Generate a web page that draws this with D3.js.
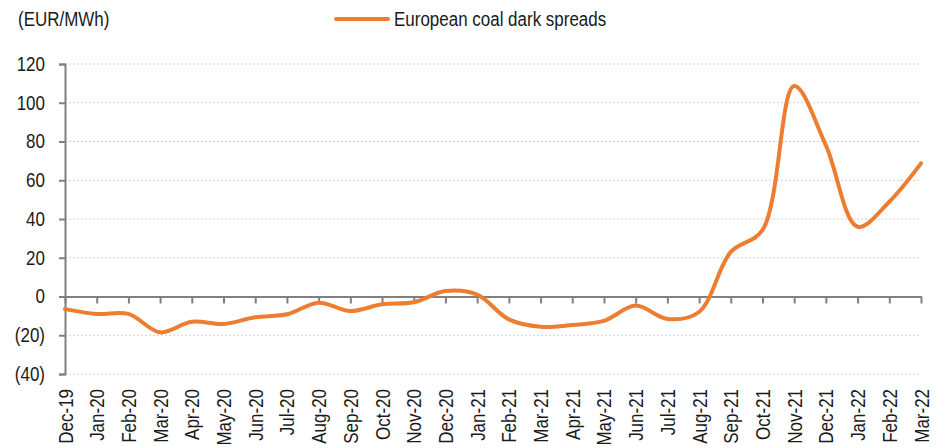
<!DOCTYPE html>
<html>
<head>
<meta charset="utf-8">
<script src="https://cdn.jsdelivr.net/npm/d3@7"></script>
<style>
  html, body { margin: 0; padding: 0; background: #fff; }
  svg { display: block; }
  text { font-family: "Liberation Sans", Arial, sans-serif; fill: #1a1a1a; }
</style>
</head>
<body>
<svg id="chart" width="946" height="448"></svg>
<script>
// Monthly categories along the x axis
const months = ["Dec-19","Jan-20","Feb-20","Mar-20","Apr-20","May-20","Jun-20","Jul-20","Aug-20","Sep-20","Oct-20","Nov-20","Dec-20",
                "Jan-21","Feb-21","Mar-21","Apr-21","May-21","Jun-21","Jul-21","Aug-21","Sep-21","Oct-21","Nov-21","Dec-21",
                "Jan-22","Feb-22","Mar-22"];
// European coal dark spreads, EUR/MWh
const spreads = [-6.5, -9, -9, -18.5, -13, -14.2, -10.7, -9.2, -3.2, -7.5, -4, -3, 2.8,
                 1, -11.8, -15.6, -14.7, -12.6, -4.7, -11.6, -8, 23, 34.3, 108.6, 78,
                 36, 48.9, 68.7];
const yTicks = [-40, -20, 0, 20, 40, 60, 80, 100, 120];
const seriesName = "European coal dark spreads";
const unitLabel = "(EUR/MWh)";

const svg = d3.select("#chart");
const plot = { left: 65, right: 921, top: 64, bottom: 374 };

const x = d3.scalePoint().domain(months).range([plot.left, plot.right]);
const y = d3.scaleLinear().domain([-40, 120]).range([plot.bottom, plot.top]);

const fontSize = 19.5;
const narrowFactor = 0.87;

// Condense text horizontally to a narrow face
function narrow(sel) {
  sel.each(function () {
    const w = this.getComputedTextLength();
    d3.select(this).attr("textLength", w * narrowFactor).attr("lengthAdjust", "spacingAndGlyphs");
  });
}

// Dotted horizontal gridlines
svg.append("g")
  .selectAll("line")
  .data(yTicks.filter(d => d !== 0))
  .join("line")
  .attr("x1", plot.left).attr("x2", plot.right)
  .attr("y1", d => y(d)).attr("y2", d => y(d))
  .attr("stroke", "#d0d0d0")
  .attr("stroke-width", 1)
  .attr("stroke-dasharray", "2,2");

// Left value axis
const yAxis = svg.append("g")
  .attr("transform", `translate(${plot.left},0)`)
  .call(d3.axisLeft(y).tickValues(yTicks).tickSize(6).tickPadding(14)
    .tickFormat(d => d < 0 ? `(${Math.abs(d)})` : d));
yAxis.select(".domain").attr("stroke", "#808080").attr("stroke-width", 2);
yAxis.selectAll(".tick line").attr("stroke", "#808080").attr("stroke-width", 2);
yAxis.selectAll("text").attr("font-size", fontSize).attr("font-family", null).attr("fill", "#1a1a1a").call(narrow);

// Category axis sitting on the zero line, labels at the bottom
const xAxis = svg.append("g")
  .attr("transform", `translate(0,${y(0)})`)
  .call(d3.axisBottom(x).tickSize(7).tickSizeOuter(0).tickFormat(""));
xAxis.select(".domain").attr("stroke", "#808080").attr("stroke-width", 2);
xAxis.selectAll(".tick line").attr("stroke", "#808080").attr("stroke-width", 2);

svg.append("g")
  .selectAll("text")
  .data(months)
  .join("text")
  .attr("transform", d => `translate(${x(d) + 7.5},${plot.bottom + 15}) rotate(-90)`)
  .attr("text-anchor", "end")
  .attr("font-size", fontSize)
  .text(d => d)
  .call(narrow);

// Smoothed series line
const line = d3.line()
  .x((d, i) => x(months[i]))
  .y(d => y(d))
  .curve(d3.curveCatmullRom.alpha(0.5));

svg.append("path")
  .datum(spreads)
  .attr("d", line)
  .attr("fill", "none")
  .attr("stroke", "#ED7D31")
  .attr("stroke-width", 4)
  .attr("stroke-linejoin", "round")
  .attr("stroke-linecap", "round");

// Unit label
svg.append("text")
  .attr("x", 18).attr("y", 26)
  .attr("font-size", fontSize)
  .text(unitLabel)
  .call(narrow);

// Legend
svg.append("line")
  .attr("x1", 336).attr("x2", 388)
  .attr("y1", 19).attr("y2", 19)
  .attr("stroke", "#ED7D31").attr("stroke-width", 4)
  .attr("stroke-linecap", "round");
svg.append("text")
  .attr("x", 394).attr("y", 26)
  .attr("font-size", fontSize)
  .text(seriesName)
  .call(narrow);
</script>
</body>
</html>
